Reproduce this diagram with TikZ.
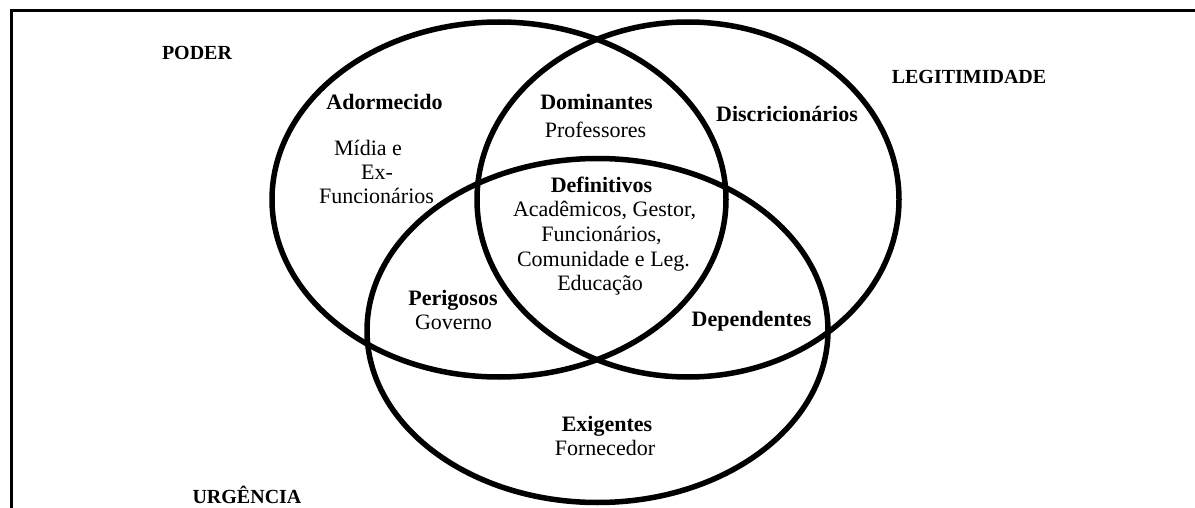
\documentclass[tikz,border=0pt]{standalone}
\usepackage{fontspec}
\setmainfont{Liberation Serif}
\begin{document}
\begin{tikzpicture}[x=1pt,y=-1pt,
  ring/.style={line width=5.5pt,draw=black},
  frame/.style={line width=3pt,draw=black},
  setname/.style={font=\fontsize{20}{22}\selectfont\bfseries,inner sep=0pt,anchor=base},
  head/.style={font=\fontsize{22}{24}\selectfont\bfseries,inner sep=0pt,anchor=base},
  member/.style={font=\fontsize{22}{24}\selectfont,inner sep=0pt,anchor=base}]
\useasboundingbox (0,0) rectangle (1195,508);
\fill[white] (0,0) rectangle (1195,508);
% frame
\coordinate (f1) at (11,508);
\coordinate (f2) at (11,11);
\coordinate (f3) at (1195,11);
\draw[frame] (f1) -- (f2) -- (f3);
% ellipses
\draw[ring] (499,199.5) ellipse [x radius=227, y radius=177.5];
\draw[ring] (688,199.5) ellipse [x radius=211, y radius=177.5];
\draw[ring] (597.5,330.5) ellipse [x radius=230.5, y radius=172];
% set names
\node[setname] (poder) at (197,59.6) {PODER};
\node[setname] (legit) at (969,83.5) {LEGITIMIDADE};
\node[setname] (urg) at (247,503.5) {URGÊNCIA};
% regions
\node[head] (adorm) at (384.5,109.5) {Adormecido};
\node[member] (adorm1) at (368,156) {Mídia e};
\node[member] (adorm2) at (377,180) {Ex-};
\node[member] (adorm3) at (376.5,204) {Funcionários};
\node[head] (domin) at (596.5,109.5) {Dominantes};
\node[member] (domin1) at (595.5,138) {Professores};
\node[head] (discr) at (787,122) {Discricionários};
\node[head] (defin) at (601.5,192.7) {Definitivos};
\node[member] (defin1) at (604.5,217) {Acadêmicos, Gestor,};
\node[member] (defin2) at (601.5,241.7) {Funcionários,};
\node[member] (defin3) at (603.5,266) {Comunidade e Leg.};
\node[member] (defin4) at (600,290) {Educação};
\node[head] (perig) at (453,305) {Perigosos};
\node[member] (perig1) at (453.5,329) {Governo};
\node[head] (depen) at (751.5,326.7) {Dependentes};
\node[head] (exig) at (607,431.7) {Exigentes};
\node[member] (exig1) at (605,455) {Fornecedor};
\end{tikzpicture}
\end{document}
